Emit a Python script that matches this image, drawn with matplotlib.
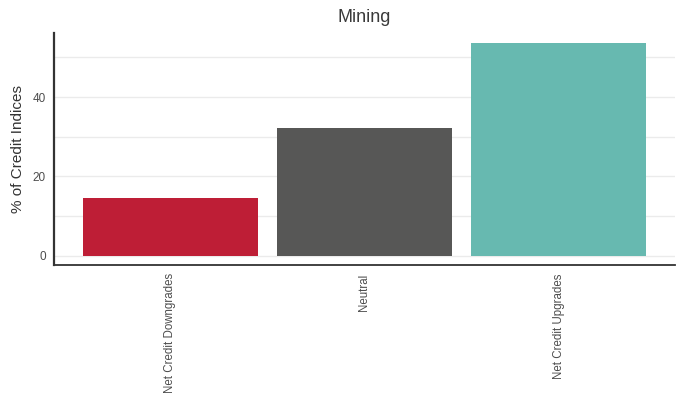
import matplotlib
matplotlib.use("Agg")
import matplotlib.pyplot as plt

categories = ["Net Credit Downgrades", "Neutral", "Net Credit Upgrades"]
values = [14.6, 32.2, 53.6]
colors = ["#BE1E36", "#575756", "#67B9B0"]
title = "Mining"
ylabel = "% of Credit Indices"
yticks = [0, 20, 40]

plt.rcParams["font.family"] = ["Liberation Sans", "DejaVu Sans"]

fig = plt.figure(figsize=(6.83, 4.03), dpi=100)
ax = fig.add_axes([54 / 683, 1 - 265 / 403, (675 - 54) / 683, (265 - 33) / 403])

x = list(range(len(categories)))
ax.bar(x, values, width=0.9, color=colors, zorder=3)

vmax = max(values)
ax.set_ylim(-0.043 * vmax, 1.047 * vmax)
ax.set_xlim(-0.6, len(categories) - 0.4)

ax.set_yticks(yticks)
ax.set_yticks([10, 30, 50], minor=True)
ax.yaxis.grid(True, which="both", color="#EBEBEB", linewidth=1.0, zorder=0)
ax.xaxis.grid(False)

ax.set_xticks(x)
ax.set_xticklabels(categories, rotation=90, fontsize=8.3, color="#4D4D4D", va="top")
ax.tick_params(axis="y", labelsize=8.5, colors="#4D4D4D", length=0, pad=6)
ax.tick_params(axis="x", length=0, pad=6)
ax.tick_params(which="minor", length=0)

for s in ["top", "right"]:
    ax.spines[s].set_visible(False)
ax.spines["left"].set_color("#333333")
ax.spines["left"].set_linewidth(1.6)
ax.spines["bottom"].set_color("#333333")
ax.spines["bottom"].set_linewidth(1.3)

ax.set_ylabel(ylabel, fontsize=11, color="#333333", labelpad=5)
ax.set_title(title, fontsize=13, color="#3A3A3A", pad=8)

fig.savefig("out.png", dpi=100, facecolor="white")
